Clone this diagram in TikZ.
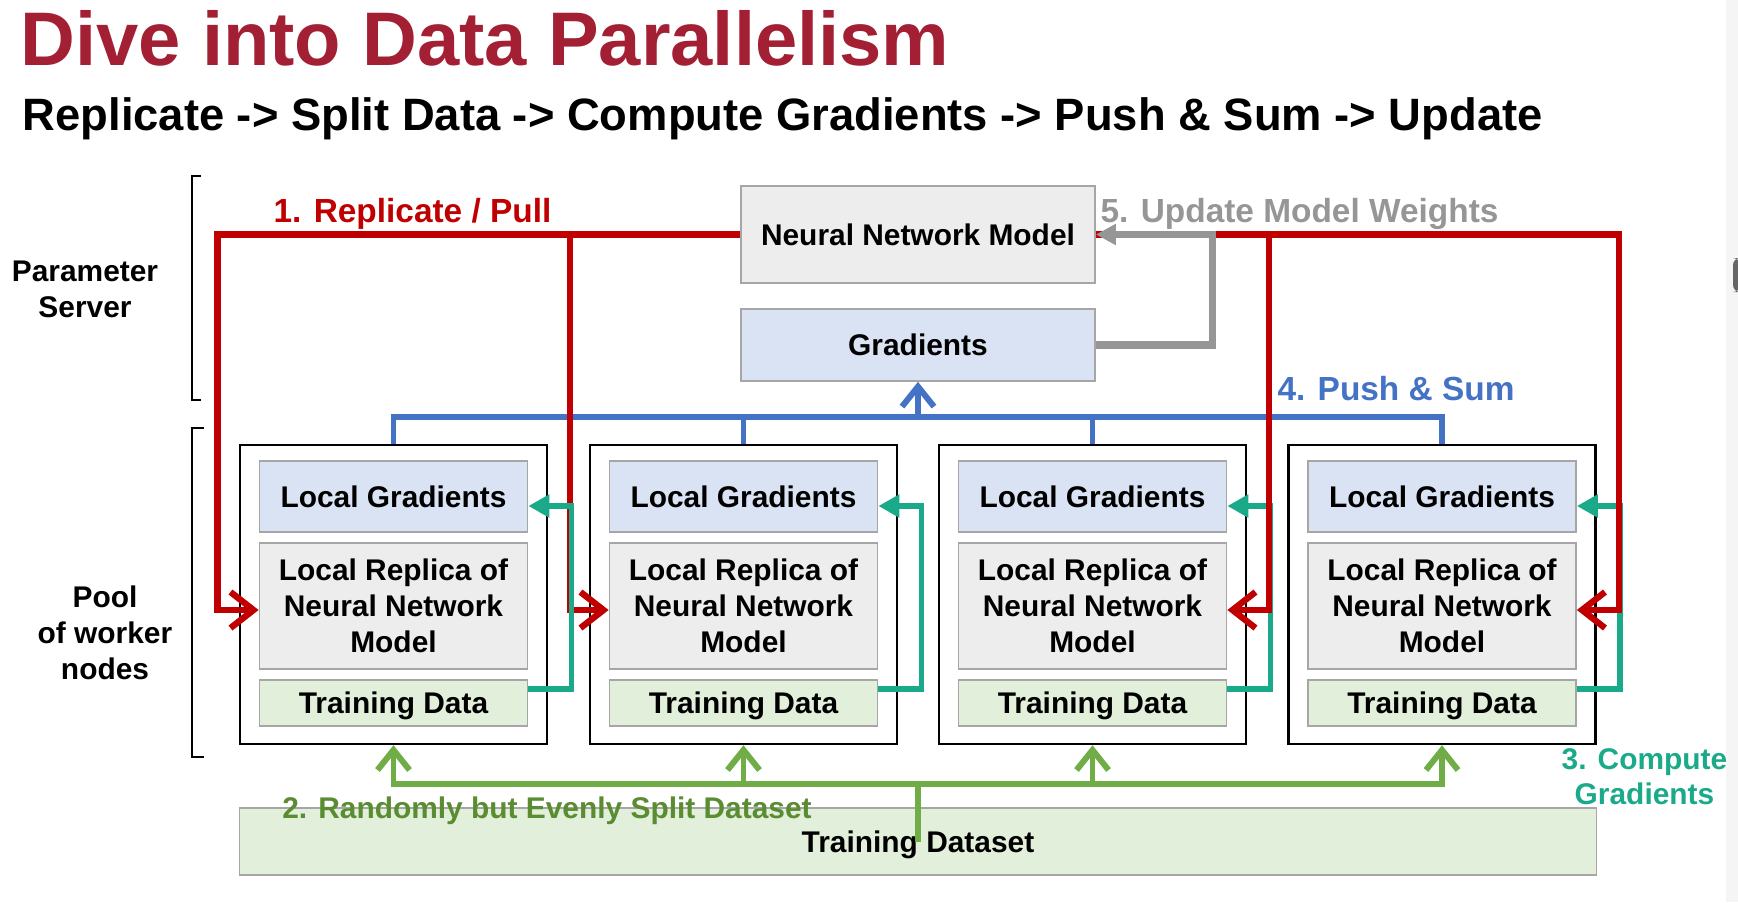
\documentclass[tikz,border=0pt]{standalone}
\usepackage{fontspec}
\setmainfont{Liberation Sans}
\usetikzlibrary{arrows.meta}

\definecolor{titlered}{RGB}{163,31,52}
\definecolor{pullred}{RGB}{192,0,0}
\definecolor{pushblue}{RGB}{68,114,196}
\definecolor{splitgreen}{RGB}{112,173,71}
\definecolor{splittext}{RGB}{90,140,50}
\definecolor{gradteal}{RGB}{26,170,138}
\definecolor{updgray}{RGB}{150,150,150}
\definecolor{boxgray}{RGB}{166,166,166}
\definecolor{modelfill}{RGB}{237,237,237}
\definecolor{gradfill}{RGB}{218,227,243}
\definecolor{datafill}{RGB}{226,239,218}

\newcommand{\boxfont}{\bfseries\fontsize{8.5}{10.2}\selectfont}
\newcommand{\stepfont}{\bfseries\fontsize{9.5}{10}\selectfont}
\newcommand{\smallstepfont}{\bfseries\fontsize{8.5}{9.9}\selectfont}

\begin{document}
\begin{tikzpicture}[x=0.01cm, y=-0.01cm,
    box/.style={draw=boxgray, line width=0.45pt, inner sep=0pt, align=center, font=\boxfont, text depth=0pt, minimum width=2.68cm},
    worker/.style={draw=black, line width=0.65pt, fill=white, inner sep=0pt, minimum width=3.07cm, minimum height=2.99cm},
    pullline/.style={draw=pullred, line width=1.8pt, -{Straight Barb[length=0.23cm, width=0.36cm]}},
    pushline/.style={draw=pushblue, line width=1.7pt},
    splitline/.style={draw=splitgreen, line width=1.7pt},
    gradline/.style={draw=gradteal, line width=1.6pt, -{Triangle[length=0.21cm, width=0.22cm]}},
    updline/.style={draw=updgray, line width=2pt, -{Triangle[length=0.2cm, width=0.2cm]}},
    barb/.style={-{Straight Barb[length=0.2cm, width=0.32cm]}}]
    \useasboundingbox (0,0) rectangle (1738,902);
    \fill[black!4] (1726,0) rectangle (1738,902);
    \fill[black!60, rounded corners=2pt] (1733,258) rectangle (1740,292);

    % Titles
    \node[anchor=base west, inner sep=0pt, text=titlered, font=\bfseries\fontsize{21.6}{24}\selectfont] at (20,65) (title) {Dive into Data Parallelism};
    \node[anchor=base west, inner sep=0pt, font=\bfseries\fontsize{12.9}{15}\selectfont] at (22,130) (subtitle) {Replicate -> Split Data -> Compute Gradients -> Push \& Sum -> Update};

    % Side labels
    \node[align=center, inner sep=0pt, font=\boxfont] at (85,289) (server) {Parameter\\Server};
    \node[align=center, inner sep=0pt, font=\boxfont] at (105,633) (pool) {Pool\\of worker\\nodes};
    \draw[line width=0.5pt] (201,176) -| (192,400) -- (201,400);
    \draw[line width=0.5pt] (204,428) -| (192,757) -- (204,757);

    % Nodes
    \node[box, fill=modelfill, minimum width=3.54cm, minimum height=0.97cm] at (918,234.5) (nn) {Neural Network Model};
    \node[box, fill=gradfill, minimum width=3.54cm, minimum height=0.72cm] at (918,345) (grad) {Gradients};

    \node[worker] at (393.5,594.5) (w1) {};
    \node[worker] at (743.5,594.5) (w2) {};
    \node[worker] at (1092.5,594.5) (w3) {};
    \node[worker] at (1442,594.5) (w4) {};

    \node[box, fill=gradfill, minimum height=0.71cm] at (393.5,496.5) (lg1) {Local Gradients};
    \node[box, fill=modelfill, minimum height=1.26cm] at (393.5,606) (rep1) {Local Replica of\\Neural Network\\Model};
    \node[box, fill=datafill, minimum height=0.46cm] at (393.5,703) (td1) {Training Data};

    \node[box, fill=gradfill, minimum height=0.71cm] at (743.5,496.5) (lg2) {Local Gradients};
    \node[box, fill=modelfill, minimum height=1.26cm] at (743.5,606) (rep2) {Local Replica of\\Neural Network\\Model};
    \node[box, fill=datafill, minimum height=0.46cm] at (743.5,703) (td2) {Training Data};

    \node[box, fill=gradfill, minimum height=0.71cm] at (1092.5,496.5) (lg3) {Local Gradients};
    \node[box, fill=modelfill, minimum height=1.26cm] at (1092.5,606) (rep3) {Local Replica of\\Neural Network\\Model};
    \node[box, fill=datafill, minimum height=0.46cm] at (1092.5,703) (td3) {Training Data};

    \node[box, fill=gradfill, minimum height=0.71cm] at (1442,496.5) (lg4) {Local Gradients};
    \node[box, fill=modelfill, minimum height=1.26cm] at (1442,606) (rep4) {Local Replica of\\Neural Network\\Model};
    \node[box, fill=datafill, minimum height=0.46cm] at (1442,703) (td4) {Training Data};

    \node[box, fill=datafill, minimum width=13.56cm, minimum height=0.67cm] at (918,841.5) (ds) {Training Dataset};

    \coordinate (bus) at (918,418);
    \coordinate (sp) at (918,784);
    \coordinate (p2) at (570,234.5);
    \coordinate (p3) at (1269,234.5);

    % 4. Push & Sum
    \draw[pushline] (w1.north) -- ++(0,-27) -| (w4.north);
    \draw[pushline] (w2.north) -- ++(0,-27);
    \draw[pushline] (w3.north) -- ++(0,-27);
    \draw[pushline, barb] (bus) -- (grad.south);

    % 2. Split
    \draw[splitline] (ds.center) -- (sp);
    \draw[splitline, barb] (sp) -| (w1.south);
    \draw[splitline, barb] (sp) -| (w2.south);
    \draw[splitline, barb] (sp) -| (w3.south);
    \draw[splitline, barb] (sp) -| (w4.south);

    % 3. Compute
    \draw[gradline] ([yshift=0.14cm]td3.east) -- ++(0.43cm,0) |- ([yshift=-0.095cm]lg3.east);
    \draw[gradline] ([yshift=0.14cm]td4.east) -- ++(0.43cm,0) |- ([yshift=-0.095cm]lg4.east);

    % 1. Replicate / Pull
    \draw[pullline] (nn.west) -| ([xshift=-0.41cm, yshift=-0.04cm]rep1.west) -- ([yshift=-0.04cm]rep1.west);
    \draw[pullline] (p2) |- ([yshift=-0.04cm]rep2.west);
    \draw[pullline] (nn.east) -| ([xshift=0.42cm, yshift=-0.04cm]rep4.east) -- ([yshift=-0.04cm]rep4.east);
    \draw[pullline] (p3) |- ([yshift=-0.04cm]rep3.east);

    \draw[gradline] ([yshift=0.14cm]td1.east) -- ++(0.43cm,0) |- ([yshift=-0.095cm]lg1.east);
    \draw[gradline] ([yshift=0.14cm]td2.east) -- ++(0.43cm,0) |- ([yshift=-0.095cm]lg2.east);

    % 5. Update
    \draw[updline] (grad.east) -| ([xshift=1.17cm]nn.east) -- (nn.east);

    % Step labels
    \node[anchor=base, inner sep=0pt, text=pullred, font=\stepfont] at (412.5,222) (l1) {1. Replicate / Pull};
    \node[anchor=base, inner sep=0pt, text=splittext, font=\smallstepfont] at (547,818) (l2) {2. Randomly but Evenly Split Dataset};
    \node[align=center, inner sep=0pt, text=gradteal, font=\smallstepfont] at (1644.5,777) (l3) {3. Compute\\Gradients};
    \node[anchor=base, inner sep=0pt, text=pushblue, font=\stepfont] at (1396,400) (l4) {4. Push \& Sum};
    \node[anchor=base, inner sep=0pt, text=updgray, font=\stepfont] at (1299.5,222) (l5) {5. Update Model Weights};
\end{tikzpicture}
\end{document}
